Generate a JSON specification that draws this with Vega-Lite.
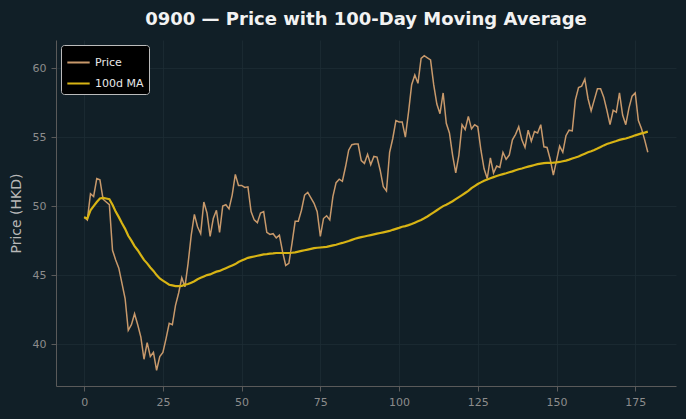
{
  "$schema": "https://vega.github.io/schema/vega-lite/v6.json",
  "width": 620,
  "height": 346,
  "autosize": {"type": "none"},
  "padding": {"left": 56, "top": 40, "right": 10, "bottom": 33},
  "background": "#111f27",
  "title": {
    "text": "0900 — Price with 100-Day Moving Average",
    "font": "DejaVu Sans",
    "fontSize": 18,
    "fontWeight": "bold",
    "color": "#f2f2f2",
    "anchor": "middle",
    "offset": 11
  },
  "config": {
    "view": {"stroke": null},
    "font": "DejaVu Sans",
    "axis": {
      "domainColor": "#5a5a5a",
      "tickColor": "#5a5a5a",
      "tickSize": 5,
      "labelColor": "#8c8c8c",
      "labelFontSize": 11,
      "labelFont": "DejaVu Sans",
      "labelPadding": 5,
      "gridColor": "#1d2c34",
      "gridWidth": 0.8,
      "titleColor": "#b8b8b8",
      "titleFont": "DejaVu Sans",
      "titleFontSize": 14,
      "titleFontWeight": "normal"
    },
    "legend": {
      "orient": "top-left",
      "offset": 5,
      "fillColor": "#000000",
      "strokeColor": "#bbbbbb",
      "cornerRadius": 3,
      "padding": 5,
      "labelColor": "#e8e8e8",
      "labelFont": "DejaVu Sans",
      "labelFontSize": 11,
      "symbolType": "stroke",
      "symbolSize": 500,
      "symbolStrokeWidth": 2,
      "rowPadding": 3,
      "title": null
    }
  },
  "data": {
    "values": [
      {"day": 0, "price": 49.2, "ma": 49.2},
      {"day": 1, "price": 49.0, "ma": 49.1},
      {"day": 2, "price": 50.9, "ma": 49.7},
      {"day": 3, "price": 50.7, "ma": 50.0},
      {"day": 4, "price": 52.0, "ma": 50.3},
      {"day": 5, "price": 51.9, "ma": 50.55},
      {"day": 6, "price": 50.5, "ma": 50.6},
      {"day": 7, "price": 50.3, "ma": 50.55},
      {"day": 8, "price": 50.1, "ma": 50.5},
      {"day": 9, "price": 46.8, "ma": 50.1},
      {"day": 10, "price": 46.1, "ma": 49.6},
      {"day": 11, "price": 45.5, "ma": 49.2},
      {"day": 12, "price": 44.4, "ma": 48.75},
      {"day": 13, "price": 43.3, "ma": 48.35},
      {"day": 14, "price": 41.0, "ma": 47.85},
      {"day": 15, "price": 41.4, "ma": 47.5},
      {"day": 16, "price": 42.2, "ma": 47.1},
      {"day": 17, "price": 41.4, "ma": 46.8},
      {"day": 18, "price": 40.5, "ma": 46.45},
      {"day": 19, "price": 38.9, "ma": 46.1},
      {"day": 20, "price": 40.1, "ma": 45.85},
      {"day": 21, "price": 39.1, "ma": 45.55},
      {"day": 22, "price": 39.4, "ma": 45.3},
      {"day": 23, "price": 38.1, "ma": 45.0},
      {"day": 24, "price": 39.1, "ma": 44.75},
      {"day": 25, "price": 39.4, "ma": 44.6},
      {"day": 26, "price": 40.4, "ma": 44.45},
      {"day": 27, "price": 41.5, "ma": 44.3},
      {"day": 28, "price": 41.4, "ma": 44.25},
      {"day": 29, "price": 42.8, "ma": 44.2},
      {"day": 30, "price": 43.7, "ma": 44.2},
      {"day": 31, "price": 44.8, "ma": 44.22},
      {"day": 32, "price": 44.15, "ma": 44.3},
      {"day": 33, "price": 45.85, "ma": 44.35},
      {"day": 34, "price": 47.9, "ma": 44.45},
      {"day": 35, "price": 49.4, "ma": 44.55},
      {"day": 36, "price": 48.5, "ma": 44.7},
      {"day": 37, "price": 48.0, "ma": 44.8},
      {"day": 38, "price": 50.3, "ma": 44.9},
      {"day": 39, "price": 49.5, "ma": 45.0},
      {"day": 40, "price": 47.8, "ma": 45.05},
      {"day": 41, "price": 49.1, "ma": 45.15},
      {"day": 42, "price": 49.7, "ma": 45.25},
      {"day": 43, "price": 48.1, "ma": 45.3},
      {"day": 44, "price": 50.0, "ma": 45.4},
      {"day": 45, "price": 50.1, "ma": 45.5},
      {"day": 46, "price": 49.8, "ma": 45.6},
      {"day": 47, "price": 50.8, "ma": 45.7},
      {"day": 48, "price": 52.3, "ma": 45.8},
      {"day": 49, "price": 51.5, "ma": 45.95},
      {"day": 50, "price": 51.5, "ma": 46.05},
      {"day": 51, "price": 51.35, "ma": 46.15},
      {"day": 52, "price": 51.4, "ma": 46.25},
      {"day": 53, "price": 49.6, "ma": 46.3},
      {"day": 54, "price": 49.0, "ma": 46.35},
      {"day": 55, "price": 48.8, "ma": 46.4},
      {"day": 56, "price": 49.5, "ma": 46.45},
      {"day": 57, "price": 49.6, "ma": 46.5},
      {"day": 58, "price": 48.1, "ma": 46.52},
      {"day": 59, "price": 47.95, "ma": 46.55},
      {"day": 60, "price": 48.0, "ma": 46.57},
      {"day": 61, "price": 47.7, "ma": 46.6},
      {"day": 62, "price": 47.9, "ma": 46.6},
      {"day": 63, "price": 46.7, "ma": 46.6},
      {"day": 64, "price": 45.7, "ma": 46.6},
      {"day": 65, "price": 45.85, "ma": 46.6},
      {"day": 66, "price": 47.3, "ma": 46.62},
      {"day": 67, "price": 48.9, "ma": 46.65},
      {"day": 68, "price": 48.9, "ma": 46.7},
      {"day": 69, "price": 49.7, "ma": 46.75},
      {"day": 70, "price": 50.8, "ma": 46.8},
      {"day": 71, "price": 51.0, "ma": 46.85},
      {"day": 72, "price": 50.6, "ma": 46.9},
      {"day": 73, "price": 50.2, "ma": 46.95},
      {"day": 74, "price": 49.6, "ma": 46.98},
      {"day": 75, "price": 47.8, "ma": 47.0},
      {"day": 76, "price": 49.1, "ma": 47.02},
      {"day": 77, "price": 49.3, "ma": 47.05},
      {"day": 78, "price": 49.0, "ma": 47.1},
      {"day": 79, "price": 50.7, "ma": 47.15},
      {"day": 80, "price": 51.7, "ma": 47.2},
      {"day": 81, "price": 51.95, "ma": 47.27},
      {"day": 82, "price": 51.8, "ma": 47.33},
      {"day": 83, "price": 52.85, "ma": 47.4},
      {"day": 84, "price": 54.05, "ma": 47.47},
      {"day": 85, "price": 54.45, "ma": 47.55},
      {"day": 86, "price": 54.5, "ma": 47.63},
      {"day": 87, "price": 54.5, "ma": 47.7},
      {"day": 88, "price": 53.3, "ma": 47.75},
      {"day": 89, "price": 53.1, "ma": 47.8},
      {"day": 90, "price": 53.75, "ma": 47.85},
      {"day": 91, "price": 53.0, "ma": 47.9},
      {"day": 92, "price": 53.6, "ma": 47.95},
      {"day": 93, "price": 53.55, "ma": 48.0},
      {"day": 94, "price": 52.6, "ma": 48.05},
      {"day": 95, "price": 51.4, "ma": 48.1},
      {"day": 96, "price": 51.1, "ma": 48.15},
      {"day": 97, "price": 53.9, "ma": 48.2},
      {"day": 98, "price": 54.9, "ma": 48.28},
      {"day": 99, "price": 56.2, "ma": 48.35},
      {"day": 100, "price": 56.1, "ma": 48.42},
      {"day": 101, "price": 56.1, "ma": 48.5},
      {"day": 102, "price": 55.0, "ma": 48.55},
      {"day": 103, "price": 56.8, "ma": 48.62},
      {"day": 104, "price": 58.8, "ma": 48.7},
      {"day": 105, "price": 59.5, "ma": 48.8},
      {"day": 106, "price": 58.9, "ma": 48.9},
      {"day": 107, "price": 60.7, "ma": 49.0},
      {"day": 108, "price": 60.9, "ma": 49.12},
      {"day": 109, "price": 60.75, "ma": 49.25},
      {"day": 110, "price": 60.6, "ma": 49.4},
      {"day": 111, "price": 58.8, "ma": 49.55},
      {"day": 112, "price": 57.4, "ma": 49.7},
      {"day": 113, "price": 56.7, "ma": 49.85},
      {"day": 114, "price": 58.2, "ma": 50.0},
      {"day": 115, "price": 56.0, "ma": 50.1},
      {"day": 116, "price": 55.3, "ma": 50.22},
      {"day": 117, "price": 53.7, "ma": 50.35},
      {"day": 118, "price": 52.4, "ma": 50.5},
      {"day": 119, "price": 53.7, "ma": 50.65},
      {"day": 120, "price": 55.9, "ma": 50.8},
      {"day": 121, "price": 55.55, "ma": 50.95},
      {"day": 122, "price": 56.5, "ma": 51.1},
      {"day": 123, "price": 55.6, "ma": 51.3},
      {"day": 124, "price": 55.9, "ma": 51.45},
      {"day": 125, "price": 55.75, "ma": 51.6},
      {"day": 126, "price": 54.05, "ma": 51.72},
      {"day": 127, "price": 52.7, "ma": 51.83},
      {"day": 128, "price": 52.0, "ma": 51.93},
      {"day": 129, "price": 53.5, "ma": 52.02},
      {"day": 130, "price": 52.4, "ma": 52.1},
      {"day": 131, "price": 52.9, "ma": 52.18},
      {"day": 132, "price": 52.8, "ma": 52.25},
      {"day": 133, "price": 53.9, "ma": 52.32},
      {"day": 134, "price": 53.4, "ma": 52.38},
      {"day": 135, "price": 53.7, "ma": 52.45},
      {"day": 136, "price": 54.8, "ma": 52.52},
      {"day": 137, "price": 55.2, "ma": 52.6},
      {"day": 138, "price": 55.75, "ma": 52.67},
      {"day": 139, "price": 54.8, "ma": 52.73},
      {"day": 140, "price": 54.25, "ma": 52.8},
      {"day": 141, "price": 55.5, "ma": 52.86},
      {"day": 142, "price": 54.7, "ma": 52.92},
      {"day": 143, "price": 55.4, "ma": 52.98},
      {"day": 144, "price": 55.3, "ma": 53.04},
      {"day": 145, "price": 55.9, "ma": 53.08},
      {"day": 146, "price": 54.3, "ma": 53.12},
      {"day": 147, "price": 54.25, "ma": 53.13},
      {"day": 148, "price": 53.4, "ma": 53.14},
      {"day": 149, "price": 52.25, "ma": 53.15},
      {"day": 150, "price": 53.3, "ma": 53.17},
      {"day": 151, "price": 54.35, "ma": 53.2},
      {"day": 152, "price": 53.9, "ma": 53.25},
      {"day": 153, "price": 55.1, "ma": 53.3},
      {"day": 154, "price": 55.5, "ma": 53.37},
      {"day": 155, "price": 55.45, "ma": 53.45},
      {"day": 156, "price": 57.7, "ma": 53.52},
      {"day": 157, "price": 58.6, "ma": 53.6},
      {"day": 158, "price": 58.7, "ma": 53.7},
      {"day": 159, "price": 59.2, "ma": 53.8},
      {"day": 160, "price": 57.8, "ma": 53.9},
      {"day": 161, "price": 56.9, "ma": 53.98},
      {"day": 162, "price": 57.7, "ma": 54.07},
      {"day": 163, "price": 58.5, "ma": 54.17},
      {"day": 164, "price": 58.5, "ma": 54.28},
      {"day": 165, "price": 57.9, "ma": 54.4},
      {"day": 166, "price": 56.95, "ma": 54.5},
      {"day": 167, "price": 55.9, "ma": 54.57},
      {"day": 168, "price": 56.95, "ma": 54.65},
      {"day": 169, "price": 56.8, "ma": 54.72},
      {"day": 170, "price": 58.2, "ma": 54.8},
      {"day": 171, "price": 56.6, "ma": 54.85},
      {"day": 172, "price": 55.9, "ma": 54.9},
      {"day": 173, "price": 57.1, "ma": 54.97},
      {"day": 174, "price": 57.97, "ma": 55.05},
      {"day": 175, "price": 58.2, "ma": 55.13},
      {"day": 176, "price": 56.2, "ma": 55.2},
      {"day": 177, "price": 55.6, "ma": 55.27},
      {"day": 178, "price": 54.8, "ma": 55.33},
      {"day": 179, "price": 53.9, "ma": 55.4}
    ]
  },
  "encoding": {
    "x": {
      "field": "day",
      "type": "quantitative",
      "scale": {"domain": [-8.95, 187.95], "nice": false, "zero": false},
      "axis": {"values": [0, 25, 50, 75, 100, 125, 150, 175], "title": null, "labelFlush": false}
    }
  },
  "layer": [
    {
      "mark": {"type": "line", "strokeWidth": 1.5, "interpolate": "linear"},
      "encoding": {
        "y": {
          "field": "price",
          "type": "quantitative",
          "scale": {"domain": [36.96, 62.04], "nice": false, "zero": false},
          "axis": {"values": [40, 45, 50, 55, 60], "title": "Price (HKD)", "titlePadding": 9}
        },
        "color": {
          "datum": "Price",
          "scale": {"domain": ["Price", "100d MA"], "range": ["#c8996b", "#d8b414"]}
        }
      }
    },
    {
      "mark": {"type": "line", "strokeWidth": 2.2, "interpolate": "linear"},
      "encoding": {
        "y": {"field": "ma", "type": "quantitative"},
        "color": {"datum": "100d MA"}
      }
    }
  ]
}
